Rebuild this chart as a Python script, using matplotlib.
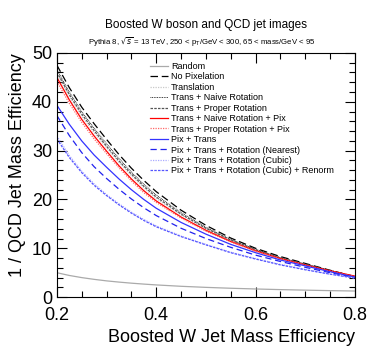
import matplotlib
matplotlib.use("Agg")
import matplotlib.pyplot as plt
from matplotlib.ticker import MultipleLocator

plt.rcParams['font.family'] = ['Liberation Sans', 'DejaVu Sans']

# W efficiency points
sig_eff = [0.2, 0.225, 0.25, 0.275, 0.3, 0.325, 0.35, 0.375, 0.4,
           0.45, 0.5, 0.55, 0.6, 0.65, 0.7, 0.75, 0.8]

random_ = [5.0, 4.44, 4.0, 3.64, 3.33, 3.08, 2.86, 2.67, 2.5,
           2.22, 2.0, 1.82, 1.67, 1.54, 1.43, 1.33, 1.25]
no_pix = [47.5, 42.9, 38.9, 35.5, 32.3, 29.2, 26.4, 23.9, 21.6,
          17.8, 14.7, 12.1, 10.0, 8.3, 6.9, 5.5, 4.2]
translation = [45.7, 41.1, 37.1, 33.7, 30.6, 27.6, 24.9, 22.4, 20.2,
               16.8, 14.0, 11.6, 9.6, 8.0, 6.7, 5.4, 4.2]
naive_rot = [46.6, 42.0, 38.0, 34.6, 31.4, 28.4, 25.6, 23.1, 20.9,
             17.3, 14.3, 11.8, 9.8, 8.1, 6.8, 5.5, 4.2]
proper_rot = [46.1, 41.5, 37.5, 34.1, 30.9, 27.9, 25.2, 22.7, 20.5,
              17.0, 14.1, 11.7, 9.7, 8.0, 6.7, 5.4, 4.2]
naive_rot_pix = [45.0, 40.4, 36.4, 33.0, 29.9, 26.9, 24.2, 21.8, 19.7,
                 16.4, 13.7, 11.4, 9.5, 7.9, 6.6, 5.4, 4.3]
proper_rot_pix = [44.2, 39.7, 35.8, 32.4, 29.4, 26.5, 23.8, 21.4, 19.4,
                  16.2, 13.5, 11.3, 9.4, 7.8, 6.5, 5.3, 4.2]
pix_trans = [39.3, 35.4, 32.0, 29.1, 26.6, 24.2, 22.0, 20.0, 18.2,
             15.3, 12.9, 10.8, 9.1, 7.6, 6.4, 5.2, 4.1]
rot_nearest = [37.2, 33.1, 29.6, 26.7, 24.3, 22.1, 20.1, 18.3, 16.7,
               14.1, 12.0, 10.2, 8.6, 7.3, 6.1, 5.0, 4.0]
rot_cubic = [33.0, 29.0, 25.8, 23.2, 21.0, 19.1, 17.4, 15.9, 14.6,
             12.5, 10.8, 9.2, 7.9, 6.7, 5.7, 4.7, 3.9]
rot_renorm = [32.4, 28.6, 25.5, 22.9, 20.8, 18.9, 17.2, 15.7, 14.4,
              12.4, 10.7, 9.1, 7.8, 6.6, 5.6, 4.7, 3.9]

fig = plt.figure(figsize=(3.74, 3.55), dpi=100)
ax = fig.add_axes([0.152, 0.163, 0.797, 0.688])

ax.plot(sig_eff, random_, color='#aaaaaa', lw=0.9, label='Random')
ax.plot(sig_eff, no_pix, color='black', lw=0.9, ls=(0, (6, 3)), label='No Pixelation')
ax.plot(sig_eff, translation, color='#c8c8c8', lw=0.9, ls=(0, (1, 1)), label='Translation')
ax.plot(sig_eff, naive_rot, color='black', lw=0.6, ls=(0, (1, 1)), label='Trans + Naive Rotation')
ax.plot(sig_eff, proper_rot, color='#555555', lw=0.9, ls=(0, (2, 1)), label='Trans + Proper Rotation')
ax.plot(sig_eff, naive_rot_pix, color='red', lw=0.9, label='Trans + Naive Rotation + Pix')
ax.plot(sig_eff, proper_rot_pix, color='#ff6666', lw=0.9, ls=(0, (1, 1)), label='Trans + Proper Rotation + Pix')
ax.plot(sig_eff, pix_trans, color='#3333ff', lw=0.9, label='Pix + Trans')
ax.plot(sig_eff, rot_nearest, color='#2222ee', lw=0.9, ls=(0, (5, 3)), label='Pix + Trans + Rotation (Nearest)')
ax.plot(sig_eff, rot_cubic, color='#aaaaff', lw=0.9, ls=(0, (1, 1)), label='Pix + Trans + Rotation (Cubic)')
ax.plot(sig_eff, rot_renorm, color='#5555ff', lw=0.9, ls=(0, (2, 1)), label='Pix + Trans + Rotation (Cubic) + Renorm')

ax.set_xlim(0.2, 0.8)
ax.set_ylim(0, 50)
ax.xaxis.set_major_locator(MultipleLocator(0.2))
ax.xaxis.set_minor_locator(MultipleLocator(0.05))
ax.yaxis.set_major_locator(MultipleLocator(10))
ax.yaxis.set_minor_locator(MultipleLocator(2))
ax.tick_params(which='both', direction='in', top=True, right=True, labelsize=13)
ax.tick_params(which='major', length=7, width=0.8)
ax.tick_params(which='minor', length=4, width=0.8)
ax.xaxis.set_major_formatter(plt.FuncFormatter(lambda v, p: '%.1f' % v))
ax.tick_params(axis='x', pad=7)

ax.set_xlabel('Boosted W Jet Mass Efficiency', fontsize=13, loc='right')
ax.set_ylabel('1 / QCD Jet Mass Efficiency', fontsize=13, loc='top')

ax.legend(loc='upper left', bbox_to_anchor=(0.295, 0.985), frameon=False,
          fontsize=6.5, handlelength=2.0, handletextpad=0.3, labelspacing=0.16,
          borderaxespad=0.2)

fig.text(0.55, 0.921, 'Boosted W boson and QCD jet images', ha='center', fontsize=8.5)
fig.text(0.54, 0.872, r'Pythia 8, $\sqrt{s}$ = 13 TeV, 250 < p$_{\mathrm{T}}$/GeV < 300, 65 < mass/GeV < 95',
         ha='center', fontsize=5.6)

fig.savefig('out.png', dpi=100)
